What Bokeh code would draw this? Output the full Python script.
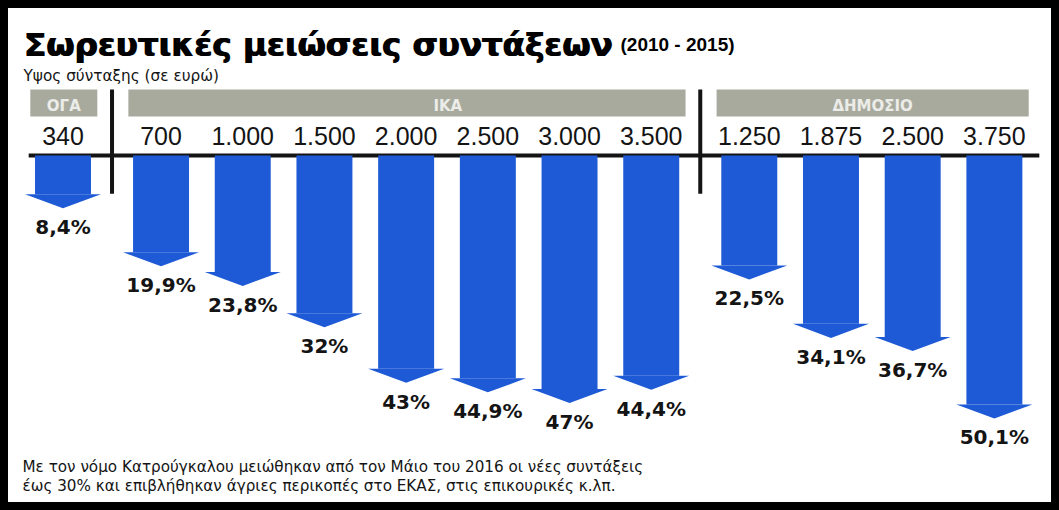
from bokeh.plotting import figure
from bokeh.models import Range1d, Label, ColumnDataSource
from bokeh.core.properties import value
from bokeh.embed import file_html
from bokeh.resources import INLINE

# ---------------- data ----------------
groups = ["ΟΓΑ", "ΙΚΑ", "ΔΗΜΟΣΙΟ"]
amounts_oga = ["340"]
amounts_ika = ["700", "1.000", "1.500", "2.000", "2.500", "3.000", "3.500"]
amounts_dim = ["1.250", "1.875", "2.500", "3.750"]
cuts_oga = [8.4]
cuts_ika = [19.9, 23.8, 32, 43, 44.9, 47, 44.4]
cuts_dim = [22.5, 34.1, 36.7, 50.1]

title = "Σωρευτικές μειώσεις συντάξεων"
title_years = "(2010 - 2015)"
subtitle = "Υψος σύνταξης (σε ευρώ)"
note_1 = "Με τον νόμο Κατρούγκαλου μειώθηκαν από τον Μάιο του 2016 οι νέες συντάξεις"
note_2 = "έως 30% και επιβλήθηκαν άγριες περικοπές στο ΕΚΑΣ, στις επικουρικές κ.λπ."

# ---------------- layout constants ----------------
W, H = 1059, 510
GAP = 0.2          # extra space between groups (in bar units)
SW = 0.685         # shaft width
HW = 0.465         # half head width
HEAD = 2.78        # head height (in % units)
TOP = -2.1         # shaft top (under the rule)
BLUE = "#1e5ad6"
INK = "#141414"
HEADER_SHIFT = [0.0, 0.5, 0.0]   # header label nudges (style)

amounts = [amounts_oga, amounts_ika, amounts_dim]
cuts = [cuts_oga, cuts_ika, cuts_dim]

pos, vals, cats, labs, gidx = [], [], [], [], []
k = 0
for g, (am, cu) in enumerate(zip(amounts, cuts)):
    for a, v in zip(am, cu):
        pos.append(k + GAP * g)
        vals.append(v)
        cats.append(a)
        labs.append(f"{v:g}".replace(".", ",") + "%")
        gidx.append(g)
        k += 1

src = ColumnDataSource(dict(
    x=pos, v=vals, cat=cats, lab=labs,
    left=[x - SW / 2 for x in pos], right=[x + SW / 2 for x in pos],
    top=[TOP] * len(pos), bottom=[v - HEAD for v in vals],
    hx=[[x - HW, x + HW, x] for x in pos],
    hy=[[v - HEAD, v - HEAD, v] for v in vals],
    laby=[v + 3.75 for v in vals],
    caty=[-5.9] * len(pos),
))

p = figure(width=W, height=H, x_range=Range1d(-0.765, 12.197),
           y_range=Range1d(68.35, -32.84), output_backend="svg",
           toolbar_location=None, min_border=0)
p.axis.visible = False
p.grid.visible = False
p.background_fill_color = "white"
p.border_fill_color = "white"
p.outline_line_color = "black"
p.outline_line_width = 15

# group headers
hl, hr, hc = [], [], []
for g in range(len(groups)):
    xs = [x for x, gg in zip(pos, gidx) if gg == g]
    hl.append(min(xs) - 0.40)
    hr.append(max(xs) + 0.42)
    hc.append((min(xs) - 0.40 + max(xs) + 0.42) / 2 + HEADER_SHIFT[g])
p.quad(left=hl, right=hr, top=[-15.2] * 3, bottom=[-9.8] * 3,
       fill_color="#a8aa9e", line_color=None)
p.text(x=hc, y=[-11.9] * 3, text=groups, text_font=value("DejaVu Sans"),
       text_font_style="bold", text_font_size="15px", text_color="#ecece8",
       text_align="center", text_baseline="alphabetic")

# separators between groups
seps = []
for g in range(1, len(groups)):
    a = max(x for x, gg in zip(pos, gidx) if gg == g - 1)
    b = min(x for x, gg in zip(pos, gidx) if gg == g)
    seps.append((a + b) / 2)
p.segment(x0=seps, x1=seps, y0=[-15.2] * len(seps), y1=[5.5] * len(seps),
          line_color=INK, line_width=4)

# baseline rule
p.segment(x0=[min(pos) - 0.42], x1=[max(pos) + 0.55], y0=[-2.1], y1=[-2.1],
          line_color=INK, line_width=4)

# arrows
p.quad(left="left", right="right", top="top", bottom="bottom", source=src,
       fill_color=BLUE, line_color=None)
p.patches(xs="hx", ys="hy", source=src, fill_color=BLUE, line_color=None)

# amount labels
p.text(x="x", y="caty", text="cat", source=src, text_font=value("Liberation Sans"),
       text_font_size="25px", text_color=INK, text_align="center",
       text_baseline="alphabetic")
# percentage labels
p.text(x="x", y="laby", text="lab", source=src, text_font=value("DejaVu Sans"),
       text_font_style="bold", text_font_size="20px", text_color=INK,
       text_align="center", text_baseline="alphabetic")

# titles and notes
for dx in (0, 1.2):
    p.add_layout(Label(x=23 + dx, y=466, x_units="screen", y_units="screen", text=title,
                       text_font="DejaVu Sans", text_font_style="bold",
                       text_font_size="32.5px", text_color="black",
                       text_baseline="alphabetic"))
p.add_layout(Label(x=620, y=466, x_units="screen", y_units="screen", text=title_years,
                   text_font="Liberation Sans", text_font_style="bold",
                   text_font_size="19px", text_color="black",
                   text_baseline="alphabetic"))
p.add_layout(Label(x=23, y=435, x_units="screen", y_units="screen", text=subtitle,
                   text_font="DejaVu Sans", text_font_size="15.3px", text_color=INK,
                   text_baseline="alphabetic"))
p.add_layout(Label(x=22, y=44, x_units="screen", y_units="screen", text=note_1,
                   text_font="DejaVu Sans", text_font_size="15.2px", text_color=INK,
                   text_baseline="alphabetic"))
p.add_layout(Label(x=22, y=25, x_units="screen", y_units="screen", text=note_2,
                   text_font="DejaVu Sans", text_font_size="15.2px", text_color=INK,
                   text_baseline="alphabetic"))

open("out.html", "w").write(file_html(p, INLINE))
